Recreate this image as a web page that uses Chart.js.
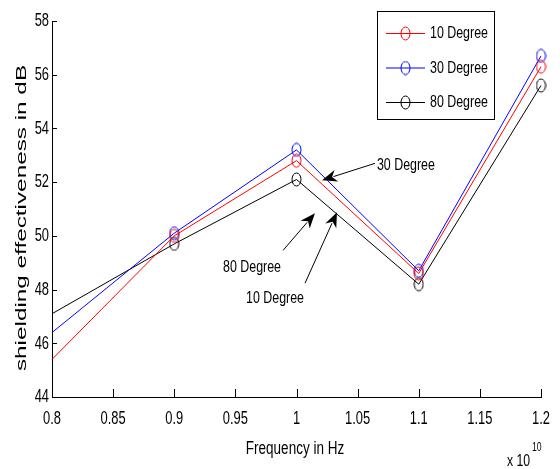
<!DOCTYPE html>
<html>
<head>
<meta charset="utf-8">
<script src="https://cdn.jsdelivr.net/npm/chart.js@4.4.0/dist/chart.umd.min.js"></script>
<style>
  html, body { margin: 0; padding: 0; background: #fff; }
  #wrap { width: 560px; height: 469px; }
</style>
</head>
<body>
<div id="wrap"><canvas id="chart" width="560" height="469"></canvas></div>
<script>
// frequency (x 10^10 Hz) and shielding effectiveness (dB)
const frequencies = [0.8, 0.9, 1.0, 1.1, 1.2];
const seriesNames = ['10 Degree', '30 Degree', '80 Degree'];
const deg10 = [45.4, 50.0, 52.8, 48.6, 56.3];
const deg30 = [46.4, 50.1, 53.2, 48.7, 56.7];
const deg80 = [47.1, 49.7, 52.1, 48.2, 55.6];
const xTicks = [0.8, 0.85, 0.9, 0.95, 1, 1.05, 1.1, 1.15, 1.2];
const yTicks = [44, 46, 48, 50, 52, 54, 56, 58];

const colors = ['#ff0000', '#0000ff', '#000000'];
const sans = '"Liberation Sans", Arial, sans-serif';

// стрелки с подписями (в координатах данных)
const notes = [
  { text: '30 Degree', at: [1.0658, 52.62], from: [1.0642, 52.70], to: [1.0209, 52.07] },
  { text: '80 Degree', at: [0.9399, 48.83], from: [0.9890, 49.46], to: [1.0151, 50.84] },
  { text: '10 Degree', at: [0.9587, 47.68], from: [1.0070, 48.24], to: [1.0331, 50.88] }
];

// кружок-маркер как в MATLAB (слегка вытянут по вертикали)
function makeMarker(color) {
  const c = document.createElement('canvas');
  c.width = 11; c.height = 15;
  const g = c.getContext('2d');
  g.strokeStyle = color;
  g.lineWidth = 1;
  g.beginPath();
  g.ellipse(5.5, 7.5, 4.5, 6.5, 0, 0, Math.PI * 2);
  g.stroke();
  return c;
}
const markers = colors.map(makeMarker);

function toPoints(values) {
  return frequencies.map((f, i) => ({ x: f, y: values[i] }));
}

// текст, сжатый по горизонтали (как в исходной картинке)
function squeezed(ctx, text, x, y, size, align, sx) {
  ctx.save();
  ctx.font = size + 'px ' + sans;
  ctx.textAlign = align;
  ctx.textBaseline = 'middle';
  ctx.translate(x, y);
  ctx.scale(sx || 0.72, 1);
  ctx.fillText(text, 0, 0);
  ctx.restore();
}

function arrow(ctx, x1, y1, x2, y2) {
  const ang = Math.atan2(y2 - y1, x2 - x1);
  const len = 15, half = 6;
  ctx.beginPath();
  ctx.moveTo(x1, y1);
  ctx.lineTo(x2 - Math.cos(ang) * len * 0.8, y2 - Math.sin(ang) * len * 0.8);
  ctx.stroke();
  const bx = x2 - Math.cos(ang) * len, by = y2 - Math.sin(ang) * len;
  ctx.beginPath();
  ctx.moveTo(x2, y2);
  ctx.lineTo(bx - Math.sin(ang) * half, by + Math.cos(ang) * half);
  ctx.lineTo(x2 - Math.cos(ang) * len * 0.7, y2 - Math.sin(ang) * len * 0.7);
  ctx.lineTo(bx + Math.sin(ang) * half, by - Math.cos(ang) * half);
  ctx.closePath();
  ctx.fill();
}

const decor = {
  id: 'decor',
  afterDraw(chart) {
    const { ctx, chartArea: a, scales: { x, y } } = chart;
    ctx.save();
    ctx.strokeStyle = '#000';
    ctx.fillStyle = '#000';
    ctx.lineWidth = 1;

    // засечки внутрь и подписи делений
    ctx.beginPath();
    yTicks.forEach(v => {
      const py = Math.round(y.getPixelForValue(v)) + 0.5;
      ctx.moveTo(a.left, py); ctx.lineTo(a.left + 5, py);
    });
    xTicks.forEach(v => {
      const px = Math.round(x.getPixelForValue(v)) + 0.5;
      ctx.moveTo(px, a.bottom); ctx.lineTo(px, a.bottom - 8);
    });
    ctx.stroke();
    yTicks.forEach(v => squeezed(ctx, String(v), a.left - 3, y.getPixelForValue(v), 19, 'right', 0.68));
    xTicks.forEach(v => squeezed(ctx, String(v), x.getPixelForValue(v), a.bottom + 22, 19, 'center', 0.68));

    // подписи осей
    squeezed(ctx, 'Frequency in Hz', 295, 449, 18, 'center', 0.75);
    squeezed(ctx, 'x 10', 507, 461, 17, 'left');
    squeezed(ctx, '10', 532, 448, 12, 'left');

    ctx.save();
    ctx.translate(22, 218);
    ctx.rotate(-Math.PI / 2);
    ctx.scale(1.62, 1);
    ctx.font = '15px ' + sans;
    ctx.textAlign = 'center';
    ctx.textBaseline = 'middle';
    ctx.fillText('shielding effectiveness in dB', 0, 0);
    ctx.restore();

    // аннотации
    notes.forEach(n => {
      squeezed(ctx, n.text, x.getPixelForValue(n.at[0]), y.getPixelForValue(n.at[1]), 17, 'left', 0.73);
      arrow(ctx,
        x.getPixelForValue(n.from[0]), y.getPixelForValue(n.from[1]),
        x.getPixelForValue(n.to[0]), y.getPixelForValue(n.to[1]));
    });

    // легенда
    ctx.fillStyle = '#fff';
    ctx.fillRect(377.5, 11.5, 117, 108);
    ctx.strokeStyle = '#000';
    ctx.strokeRect(377.5, 11.5, 117, 108);
    seriesNames.forEach((name, i) => {
      const ry = 33.5 + i * 34.5;
      ctx.strokeStyle = colors[i];
      ctx.beginPath();
      ctx.moveTo(386, ry); ctx.lineTo(425, ry);
      ctx.stroke();
      ctx.drawImage(markers[i], 405.5 - 5.5, ry - 7.5);
      ctx.fillStyle = '#000';
      squeezed(ctx, name, 430, ry, 17, 'left', 0.73);
    });
    ctx.restore();
  }
};

new Chart(document.getElementById('chart'), {
  type: 'line',
  data: {
    datasets: [deg10, deg30, deg80].map((vals, i) => ({
      label: seriesNames[i],
      data: toPoints(vals),
      borderColor: colors[i],
      backgroundColor: colors[i],
      borderWidth: 1,
      tension: 0,
      fill: false,
      clip: false,
      pointStyle: markers[i],
      pointRadius: frequencies.map((f, j) => (j === 0 ? 0 : 5)),
      pointHoverRadius: 5
    }))
  },
  options: {
    responsive: false,
    animation: false,
    events: [],
    layout: { padding: { top: 21, right: 19, left: 0, bottom: 0 } },
    plugins: { legend: { display: false }, tooltip: { enabled: false } },
    scales: {
      x: {
        type: 'linear',
        min: 0.8,
        max: 1.2,
        afterBuildTicks: s => { s.ticks = xTicks.map(v => ({ value: v })); },
        afterFit: s => { s.height = 72; },
        grid: { display: false },
        border: { display: true, color: '#000', width: 1 },
        ticks: { display: false }
      },
      y: {
        min: 44,
        max: 58,
        afterBuildTicks: s => { s.ticks = yTicks.map(v => ({ value: v })); },
        afterFit: s => { s.width = 52; },
        grid: { display: false },
        border: { display: true, color: '#000', width: 1 },
        ticks: { display: false }
      }
    }
  },
  plugins: [decor]
});
</script>
</body>
</html>
